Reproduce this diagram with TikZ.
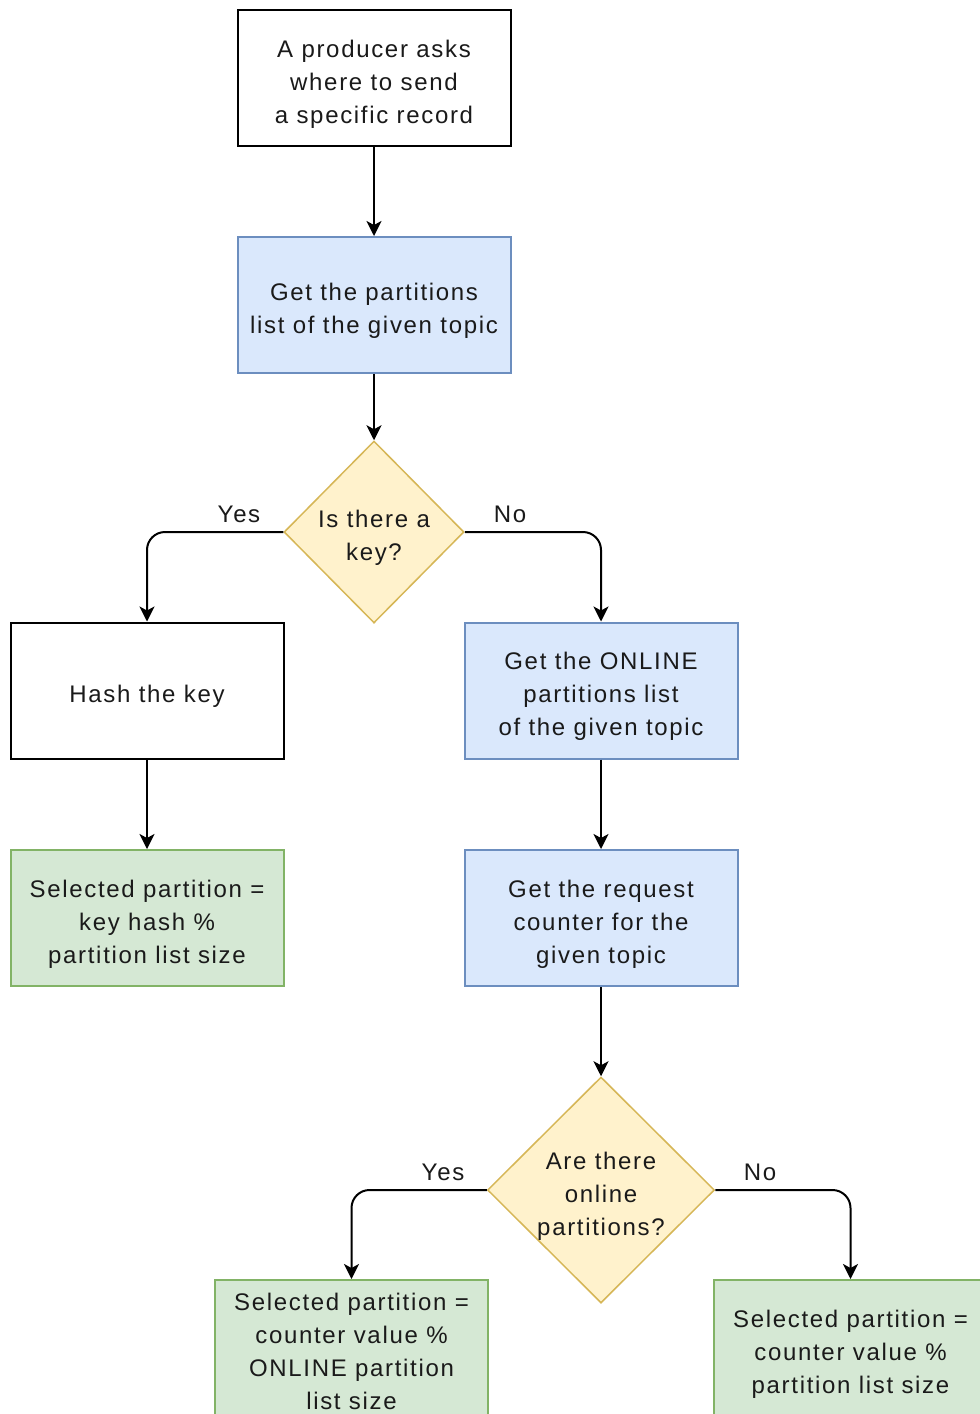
\documentclass[tikz,border=0pt]{standalone}
\usepackage{fontspec}
\setmainfont[LetterSpace=7]{Liberation Sans}
\usetikzlibrary{shapes.geometric,arrows.meta}
\definecolor{txt}{HTML}{1A1A1A}
\definecolor{bluefill}{HTML}{DAE8FC}
\definecolor{bluedraw}{HTML}{6C8EBF}
\definecolor{yelfill}{HTML}{FFF2CC}
\definecolor{yeldraw}{HTML}{D6B656}
\definecolor{grnfill}{HTML}{D5E8D4}
\definecolor{grndraw}{HTML}{82B366}
% centred lines, set a little below the middle of their box
\newcommand{\lines}[1]{\raisebox{-5.5pt}[\height][\depth]{\begin{tabular}{@{}c@{}}#1\end{tabular}}}
\tikzset{
  lbl/.style={font=\fontsize{24}{33}\selectfont, text=txt, inner sep=0pt},
  plainbox/.style={lbl, draw=black, fill=white, line width=2pt,
    minimum width=273pt, minimum height=136pt},
  bluebox/.style={plainbox, draw=bluedraw, fill=bluefill},
  greenbox/.style={plainbox, draw=grndraw, fill=grnfill},
  decision/.style={diamond, draw=yeldraw, fill=yelfill, line width=1.5pt,
    inner sep=0pt, aspect=1},
  flow/.style={draw=black, line width=2pt, rounded corners=18pt,
    -{Stealth[length=15pt,width=15pt,inset=4pt]}},
  branch/.style={lbl}
}
\begin{document}
\begin{tikzpicture}[x=1pt,y=-1pt]
\useasboundingbox (0,0) rectangle (980,1414);
\clip (0,0) rectangle (980,1414);
\fill[white] (0,0) rectangle (980,1414);

% top of the flow
\node[plainbox] (ask) at (374,78) {\lines{A producer asks\\where to send\\a specific record}};
\node[bluebox] (parts) at (374,305) {\lines{Get the partitions\\list of the given topic}};
\node[decision, minimum width=180pt, minimum height=182pt] (haskey) at (374,532) {};
\node[lbl] (haskeytext) at (374,532) {\lines{Is there a\\key?}};

% key branch
\node[plainbox] (hash) at (147,690.5) {\lines{Hash the key}};
\node[greenbox] (bykey) at (147,918) {\lines{Selected partition =\\key hash \%\\partition list size}};

% no-key branch
\node[bluebox] (online) at (601,690.5) {\lines{Get the ONLINE\\partitions list\\of the given topic}};
\node[bluebox] (counter) at (601,918) {\lines{Get the request\\counter for the\\given topic}};
\node[decision, minimum width=227pt, minimum height=226pt] (hasonline) at (601,1190) {};
\node[lbl] (hasonlinetext) at (601,1190) {\lines{Are there\\online\\partitions?}};
\node[greenbox] (byonline) at (351.5,1348) {\lines{Selected partition =\\counter value \%\\ONLINE partition\\list size}};
\node[greenbox] (byall) at (850.5,1348) {\lines{Selected partition =\\counter value \%\\partition list size}};

% connectors
\draw[flow] (ask) -- (parts);
\draw[flow] (parts) -- (haskey);
\draw[flow] (haskey.west) -| (hash.north);
\draw[flow] (haskey.east) -| (online.north);
\draw[flow] (hash) -- (bykey);
\draw[flow] (online) -- (counter);
\draw[flow] (counter) -- (hasonline);
\draw[flow] (hasonline.west) -| (byonline.north);
\draw[flow] (hasonline.east) -| (byall.north);

% branch labels
\node[branch] (yes1) at (239,514) {Yes};
\node[branch] (no1) at (510,514) {No};
\node[branch] (yes2) at (443,1172) {Yes};
\node[branch] (no2) at (760,1172) {No};
\end{tikzpicture}
\end{document}
